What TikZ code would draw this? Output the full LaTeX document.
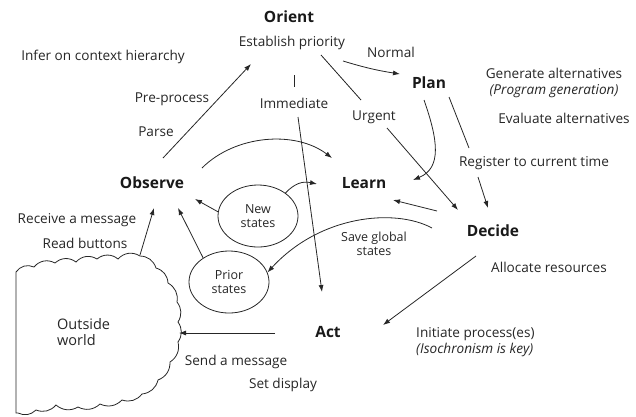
\documentclass[tikz,border=0pt]{standalone}
\usepackage{fontspec}
\setmainfont{Open Sans}
\usetikzlibrary{arrows.meta,shapes.geometric}
\begin{document}
\begin{tikzpicture}[x=1pt,y=-1pt,
  lbl/.style={font=\fontsize{13.6}{15.5}\selectfont, inner sep=0pt, text=black!85},
  hd/.style={font=\fontsize{15.5}{18}\selectfont\bfseries, inner sep=0pt, text=black!90},
  conn/.style={line width=0.8pt, draw=black!85, -{Latex[length=7pt,width=5pt]}},
  seg/.style={line width=0.8pt, draw=black!85},
  st/.style={ellipse, draw=black!85, line width=0.8pt, minimum width=80pt, minimum height=62pt,
             align=center, inner sep=0pt, font=\fontsize{12.5}{13.5}\selectfont, text=black!85}]
\useasboundingbox (0,0) rectangle (636,416);

% headings
\node[hd] (orient) at (289,17) {Orient};
\node[hd] (plan) at (429,83) {Plan};
\node[hd] (observe) at (152,183) {Observe};
\node[hd] (learn) at (364,183) {Learn};
\node[hd] (decide) at (493,231) {Decide};
\node[hd] (act) at (328,332) {Act};

% labels
\node[lbl] (estab) at (292,43) {Establish priority};
\node[lbl] (infer) at (103,57) {Infer on context hierarchy};
\node[lbl] (normal) at (391,52) {Normal};
\node[lbl, align=center] (gen) at (554,83) {Generate alternatives\\\itshape(Program generation)};
\node[lbl] (eval) at (564,118) {Evaluate alternatives};
\node[lbl] (prep) at (172,99) {Pre-process};
\node[lbl] (parse) at (156,132) {Parse};
\node[lbl] (immed) at (294,103) {Immediate};
\node[lbl] (urgent) at (374,117) {Urgent};
\node[lbl] (regis) at (534,163) {Register to current time};
\node[lbl] (recv) at (77,220) {Receive a message};
\node[lbl] (read) at (85,243) {Read buttons};
\node[lbl, align=center, font=\fontsize{12.5}{13.5}\selectfont] (save) at (374,244) {Save global\\states};
\node[lbl] (alloc) at (549,267) {Allocate resources};
\node[lbl, align=left, anchor=west] (init) at (416,342) {Initiate process(es)\\\itshape(Isochronism is key)};
\node[lbl] (send) at (236,362) {Send a message};
\node[lbl] (setd) at (283,385) {Set display};

% state ellipses
\node[st] (new) at (258,216) {New\\states};
\node[st] (prior) at (229,282) {Prior\\states};

% cloud
\draw[seg] (16,272) to[bend left=40] (34,267) to[bend left=40] (55,263) to[bend left=40] (76,262)
  to[bend left=40] (97,259) to[bend left=40] (118,259) to[bend left=40] (140,256)
  to[bend left=35] (156,268) to[bend left=35] (168,283) to[bend left=35] (177,302)
  to[bend left=35] (178,322) to[bend left=35] (178,342) to[bend left=35] (170,362)
  to[bend left=35] (158,380) to[bend left=35] (142,394) to[bend left=35] (122,400)
  to[bend left=35] (100,404) to[bend left=35] (78,407) to[bend left=35] (56,405)
  to[bend left=35] (36,410) to[bend left=35] (18,413) -- (16,413) -- cycle;
\node[lbl, align=left, anchor=west, font=\fontsize{14.5}{16}\selectfont] (outside) at (57,332) {Outside\\world};

% coordinates
\coordinate (obsA) at (163,158);
\coordinate (oriA) at (251,64);
\coordinate (norA) at (343,61);
\coordinate (norB) at (400,74);
\coordinate (urgA) at (321,55);
\coordinate (urgB) at (361,100);
\coordinate (urgC) at (387,128);
\coordinate (urgD) at (458,210);
\coordinate (plA) at (424,100);
\coordinate (plB) at (413,180);
\coordinate (regA) at (449,97);
\coordinate (regB) at (469,148);
\coordinate (regC) at (478,177);
\coordinate (regD) at (488,208);
\coordinate (decA) at (437,211);
\coordinate (lrnA) at (393,200);
\coordinate (savA) at (432,228);
\coordinate (immA) at (294,75);
\coordinate (immB) at (294,87);
\coordinate (immC) at (298,117);
\coordinate (immD) at (322,292);
\coordinate (arcA) at (202,168);
\coordinate (arcB) at (332,158);
\coordinate (newT) at (317,184);
\coordinate (obsB) at (195,199);
\coordinate (obsC) at (178,208);
\coordinate (obsD) at (154,208);
\coordinate (cldT) at (140,255);
\coordinate (decB) at (476,256);
\coordinate (actA) at (383,325);
\coordinate (actB) at (275,333);
\coordinate (cldR) at (179,333);

% connectors
\draw[conn] (obsA) -- (oriA);
\draw[conn] (norA) to[bend right=4] (norB);
\draw[seg] (urgA) -- (urgB);
\draw[conn] (urgC) -- (urgD);
\draw[conn] (plA) .. controls (438,140) and (442,168) .. (plB);
\draw[seg] (regA) -- (regB);
\draw[conn] (regC) -- (regD);
\draw[conn] (decA) -- (lrnA);
\draw[conn] (savA) .. controls (395,208) and (320,215) .. (prior.14);
\draw[seg] (immA) -- (immB);
\draw[conn] (immC) -- (immD);
\draw[conn] (arcA) .. controls (235,135) and (295,130) .. (arcB);
\draw[conn] (new.40) .. controls (295,183) and (303,181) .. (newT);
\draw[conn] (new.174) -- (obsB);
\draw[conn] (prior.137) -- (obsC);
\draw[conn] (cldT) -- (obsD);
\draw[conn] (decB) -- (actA);
\draw[conn] (actB) -- (cldR);
\end{tikzpicture}
\end{document}
